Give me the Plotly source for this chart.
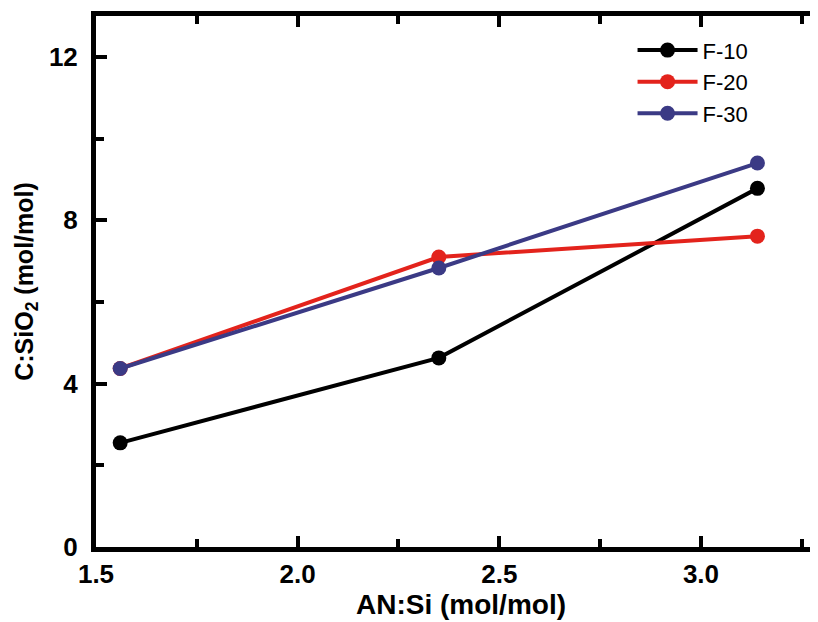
import plotly.graph_objects as go

an_si = [1.56, 2.35, 3.14]
f10 = [2.55, 4.63, 8.78]
f20 = [4.37, 7.10, 7.61]
f30 = [4.37, 6.83, 9.40]
series_names = ["F-10", "F-20", "F-30"]
colors = ["#000000", "#e3231c", "#3b3a85"]

fig = go.Figure()
for name, ys, c in zip(series_names, [f10, f20, f30], colors):
    fig.add_trace(go.Scatter(
        x=an_si, y=ys, name=name, mode="lines+markers",
        line=dict(color=c, width=4),
        marker=dict(color=c, size=15),
    ))

font_family = "Liberation Sans, Arial, Helvetica, sans-serif"
axis_common = dict(
    showline=True, linecolor="black", linewidth=5, mirror="ticks",
    ticks="inside", ticklen=11, tickwidth=4, tickcolor="black",
    showgrid=False, zeroline=False, automargin=False,
    tickfont=dict(family=font_family, size=26, color="black", weight="bold"),
)

fig.update_layout(
    width=818, height=622,
    margin=dict(l=88, r=0, t=8, b=83),
    paper_bgcolor="white", plot_bgcolor="white",
    font=dict(family=font_family, color="black"),
    xaxis=dict(
        range=[1.5, 3.31], tickvals=[1.5, 2.0, 2.5, 3.0],
        ticktext=["1.5", "2.0", "2.5", "3.0"],
        minor=dict(tickvals=[1.75, 2.25, 2.75, 3.25], ticks="inside",
                   ticklen=8, tickwidth=4, tickcolor="black"),
        ticklabelstandoff=0,
        title=dict(text="<b>AN:Si (mol/mol)</b>", standoff=2,
                   font=dict(family=font_family, size=28, color="black")),
        **axis_common,
    ),
    yaxis=dict(
        range=[0, 13], tickvals=[0, 4, 8, 12],
        minor=dict(tickvals=[2, 6, 10], ticks="inside",
                   ticklen=8, tickwidth=4, tickcolor="black"),
        ticklabelstandoff=8,
        title=dict(text="<b>C:SiO<sub>2</sub> (mol/mol)</b>", standoff=10,
                   font=dict(family=font_family, size=25, color="black")),
        **axis_common,
    ),
    legend=dict(
        x=0.735, y=0.975, xanchor="left", yanchor="top",
        bgcolor="rgba(0,0,0,0)", itemwidth=60,
        font=dict(family=font_family, size=22, color="black"),
        tracegroupgap=0,
    ),
    showlegend=True,
)

fig.write_html("out.html")
